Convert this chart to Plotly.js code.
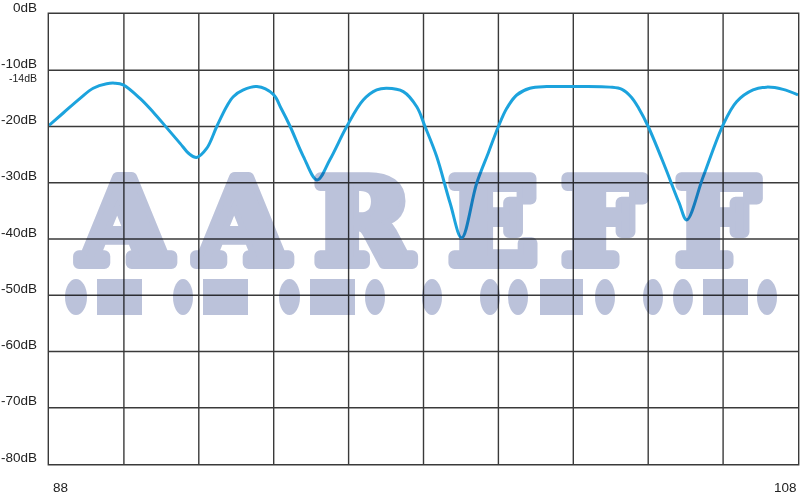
<!DOCTYPE html>
<html>
<head>
<meta charset="utf-8">
<script src="https://cdn.plot.ly/plotly-3.0.1.min.js"></script>
<style>
  html, body { margin: 0; padding: 0; background: #fff; }
  #chart { width: 800px; height: 500px; }
</style>
</head>
<body>
<div id="chart"></div>
<script>
// ---- data ----
const freqMHz = [88.0, 88.38, 88.83, 89.18, 89.54, 89.76, 89.98, 90.43, 90.79, 91.14, 91.5, 91.75, 91.94,
  92.21, 92.48, 92.74, 92.92, 93.19, 93.55, 93.99, 94.2, 94.44, 94.79, 95.16, 95.5, 95.95, 96.39, 96.75,
  97.02, 97.46, 97.82, 98.04, 98.35, 98.71, 99.02, 99.42, 99.73, 100.0, 100.22, 100.49, 100.84,
  101.29, 102.0, 102.98, 103.3, 103.55, 103.75, 104.0, 104.45, 104.82, 105.03, 105.47, 106.0,
  106.36, 106.8, 107.16, 107.6, 108.0];
const levelDb = [-19.8, -17.6, -15.0, -13.2, -12.4, -12.3, -12.6, -15.0, -17.5, -20.2, -23.0, -24.9, -25.5,
  -23.9, -20.0, -16.5, -14.7, -13.5, -12.9, -14.3, -16.8, -20.0, -25.3, -29.5, -25.9, -20.0, -15.3, -13.5,
  -13.2, -13.8, -16.5, -20.0, -25.3, -33.6, -39.8, -30.1, -24.7, -20.0, -16.8, -14.4, -13.2,
  -12.9, -12.9, -13.0, -13.4, -14.8, -16.8, -20.0, -27.2, -33.5, -36.6, -28.9, -19.7,
  -15.6, -13.5, -13.0, -13.4, -14.4];
const yTickVals = [0, -10, -20, -30, -40, -50, -60, -70, -80];
const yTickText = ['0dB', '-10dB', '-20dB', '-30dB', '-40dB', '-50dB', '-60dB', '-70dB', '-80dB'];
const xLabelVals = [88, 108];
const xLabelText = ['88', '108'];
const markLevel = -14;
const markText = '-14dB';
const watermarkWord = 'AAREFF';

// ---- decoration helpers (pixel -> paper) ----
const L = 49, R = 798, T = 14, B = 464;
const px = x => (x - L) / (R - L);
const py = y => (B - y) / (B - T);
const wmColor = 'rgb(187,194,218)';

const letterCenters = [125, 242, 364, 493, 603, 717];
const morse = [['e',65,87],['r',97,142],['e',173,193],['r',203,248],['e',279,300],['r',310,355],
  ['e',365,385],['e',422,442],['e',480,500],['e',508,528],['r',540,583],['e',595,615],
  ['e',643,663],['e',673,693],['r',703,748],['e',757,777]];

const annotations = [];
watermarkWord.split('').forEach((ch, i) => {
  annotations.push({
    text: ch, xref: 'paper', yref: 'paper', x: px(letterCenters[i]), y: py(222),
    xanchor: 'center', yanchor: 'middle', showarrow: false,
    font: { family: 'DejaVu Serif', size: 116, color: wmColor, weight: 'bold' }
  });
});
const lblFont = { family: 'Liberation Sans, Arial, sans-serif', size: 13.5, color: '#222' };
yTickVals.forEach((v, i) => {
  annotations.push({
    text: yTickText[i], xref: 'paper', yref: 'y', x: 0, y: v,
    xanchor: 'right', yanchor: 'middle', xshift: -10, yshift: 7, showarrow: false, font: lblFont
  });
});
annotations.push({
  text: markText, xref: 'paper', yref: 'y', x: 0, y: markLevel,
  xanchor: 'right', yanchor: 'middle', xshift: -10, yshift: 15, showarrow: false,
  font: { family: 'Liberation Sans, Arial, sans-serif', size: 10.5, color: '#222' }
});
xLabelVals.forEach((v, i) => {
  annotations.push({
    text: xLabelText[i], xref: 'x', yref: 'paper', x: v, y: 0,
    xanchor: i === 0 ? 'left' : 'right', yanchor: 'top', xshift: i === 0 ? 2 : 1, yshift: -14,
    showarrow: false, font: lblFont
  });
});

const shapes = morse.map(m => ({
  type: m[0] === 'e' ? 'circle' : 'rect', xref: 'paper', yref: 'paper',
  x0: px(m[1]), x1: px(m[2]), y0: py(315), y1: py(279),
  fillcolor: wmColor, line: { width: 0 }, layer: 'above'
}));

const trace = {
  x: freqMHz, y: levelDb, type: 'scatter', mode: 'lines',
  line: { color: '#1ca3dd', width: 3, shape: 'spline', smoothing: 1 },
  hoverinfo: 'skip'
};

const axisCommon = {
  showgrid: true, gridcolor: '#3a3a3a', gridwidth: 1.4, zeroline: false,
  showline: true, mirror: true, linecolor: '#3a3a3a', linewidth: 1.4,
  showticklabels: false, ticks: '', fixedrange: true
};

const layout = {
  width: 800, height: 500,
  margin: { l: L, r: 800 - R, t: T, b: 500 - B, pad: 0 },
  paper_bgcolor: '#fff', plot_bgcolor: '#fff',
  showlegend: false,
  xaxis: Object.assign({}, axisCommon, { range: [88, 108], tick0: 88, dtick: 2 }),
  yaxis: Object.assign({}, axisCommon, { range: [-80, 0], tick0: 0, dtick: 10 }),
  annotations: annotations,
  shapes: shapes
};

Plotly.newPlot('chart', [trace], layout, { displayModeBar: false, staticPlot: true }).then(gd => {
  gd.querySelectorAll('.gridlayer path, path.xline, path.yline, .xlines-above, .ylines-above, .xlines-below, .ylines-below').forEach(el => {
    el.style.shapeRendering = 'geometricPrecision';
  });
  gd.querySelectorAll('.layer-above .shapelayer path, .annotation').forEach(el => {
    el.style.mixBlendMode = 'multiply';
  });
  gd.querySelectorAll('.annotation').forEach(el => {
    const idx = +el.getAttribute('data-index');
    if (idx < watermarkWord.length) {
      const t = el.querySelector('text');
      if (t) {
        t.style.stroke = wmColor;
        t.style.strokeWidth = '12px';
        t.style.strokeLinejoin = 'round';
        t.style.paintOrder = 'stroke';
      }
    }
  });
});
</script>
</body>
</html>
